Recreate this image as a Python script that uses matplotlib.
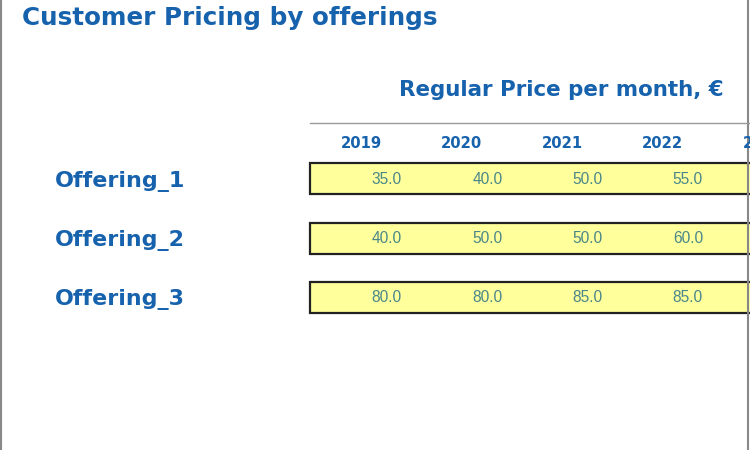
import matplotlib
matplotlib.use("Agg")
import matplotlib.pyplot as plt
from matplotlib.patches import Rectangle

title = "Customer Pricing by offerings"
subtitle = "Regular Price per month, €"
years = ["2019", "2020", "2021", "2022", "2023"]
offerings = ["Offering_1", "Offering_2", "Offering_3"]
prices = {
    "Offering_1": [35.0, 40.0, 50.0, 55.0],
    "Offering_2": [40.0, 50.0, 50.0, 60.0],
    "Offering_3": [80.0, 80.0, 85.0, 85.0],
}

BLUE = "#1762ad"
VALC = "#4a8788"
YELLOW = "#ffff9c"

fig = plt.figure(figsize=(7.5, 4.5), dpi=100)
ax = fig.add_axes([0, 0, 1, 1])
ax.set_xlim(0, 750)
ax.set_ylim(450, 0)
ax.axis("off")
fig.canvas.draw()
renderer = fig.canvas.get_renderer()


def fit_text(x, y, s, target_w, ha="left", weight="bold", color=BLUE, family="DejaVu Sans", size0=12):
    t = ax.text(x, y, s, ha=ha, va="center", fontsize=size0, fontweight=weight,
                color=color, family=family)
    w = t.get_window_extent(renderer).width
    t.set_fontsize(size0 * target_w / w)
    return t


# window borders
ax.plot([1, 1], [0, 450], color="#888888", lw=1.5)
ax.plot([748, 748], [0, 450], color="#888888", lw=1.5)

fit_text(22, 18.5, title, 415)
fit_text(399, 89.5, subtitle, 325)
ax.plot([310, 750], [123, 123], color="#9a9a9a", lw=1.0)

col_x0, col_dx = 361, 100.6
for i, yr in enumerate(years):
    fit_text(col_x0 + i * col_dx, 143, yr, 41, ha="center")

row_y0, row_dy = 178.5, 59.5
for r, name in enumerate(offerings):
    yc = row_y0 + r * row_dy
    fit_text(55, yc + 2.5, name, 130)
    ax.add_patch(Rectangle((310, yc - 15.5), 445, 31, facecolor=YELLOW,
                           edgecolor="#222222", lw=1.6, clip_on=False))
    for i, v in enumerate(prices[name]):
        fit_text(col_x0 + i * 100.3 + 41, yc + 0.5, f"{v:.1f}", 30, ha="right",
                 weight="normal", color=VALC, family="Liberation Sans")

fig.savefig("out.png", dpi=100)
